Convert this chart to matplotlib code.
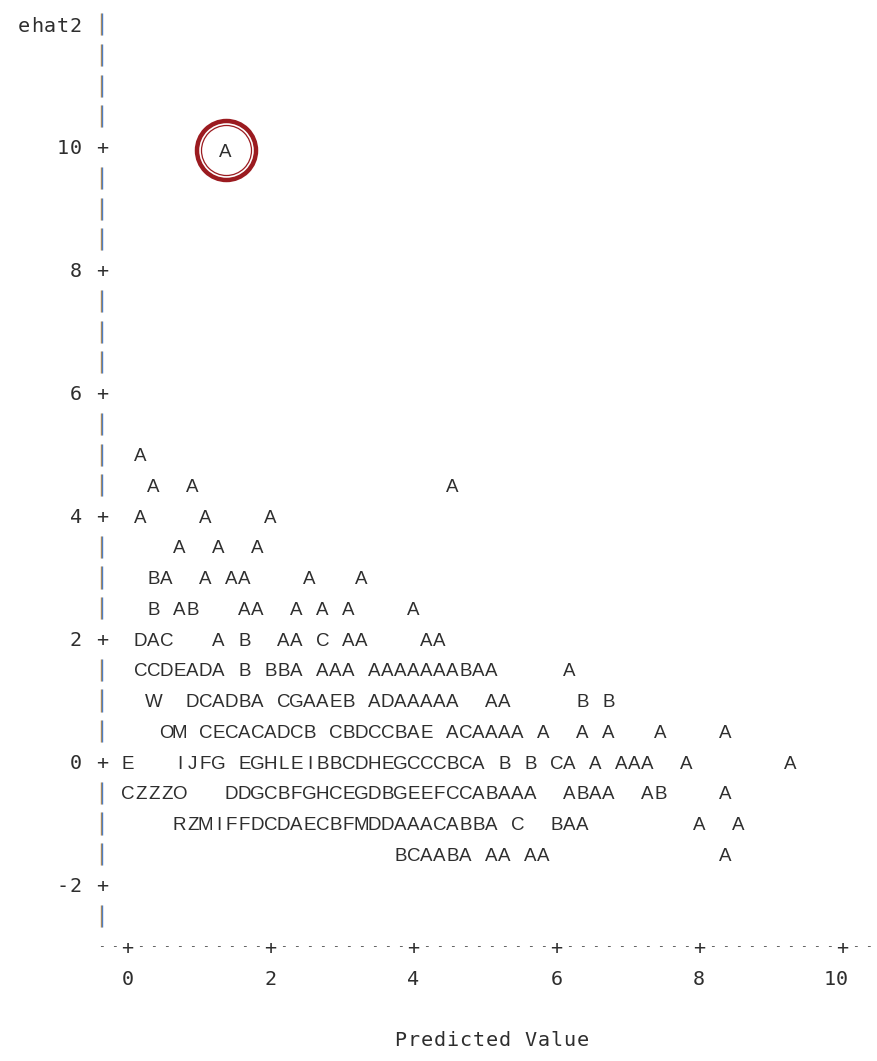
import matplotlib
matplotlib.use('Agg')
import matplotlib.pyplot as plt

# SAS line-printer plot of ehat2 against predicted value.
# one string per printed row; character i sits in print column i
# (column 0 = predicted value 0, 11 columns for every 2 units)
row_y = [5.0, 4.5, 4.0, 3.5, 3.0, 2.5, 2.0, 1.5, 1.0, 0.5, 0.0, -0.5, -1.0, -1.5]
row_text = [
    " A",
    "  A  A" + " " * 19 + "A",
    " A    A    A",
    "    A  A  A",
    "  BA  A AA    A   A",
    "  B AB   AA  A A A    A",
    " DAC   A B  AA C AA    AA",
    " CCDEADA B BBA AAA AAAAAAABAA     A",
    "  W  DCADBA CGAAEB ADAAAAA  AA     B B",
    "   OM CECACADCB CBDCCBAE ACAAAA A  A A   A    A",
    "E   IJFG EGHLEIBBCDHEGCCCBCA B B CA A AAA  A       A",
    "CZZZO   DDGCBFGHCEGDBGEEFCCABAAA  ABAA  AB    A",
    "    RZMIFFDCDAECBFMDDAAACABBA C  BAA" + " " * 8 + "A  A",
    " " * 21 + "BCAABA AA AA" + " " * 13 + "A",
]

# the circled outlier
circ_x = [1.37]
circ_y = [9.95]
circ_sym = ["A"]

x_ticks = [0, 2, 4, 6, 8, 10]
y_ticks = [10, 8, 6, 4, 2, 0, -2]
x_label = "Predicted Value"
y_label = "ehat2"

cw = 2 / 11  # one print column in predicted-value units
ink = '#2e2e2e'
sym = dict(family='Liberation Sans', fontsize=13.5, color=ink, ha='center', va='baseline')
axf = dict(family='DejaVu Sans Mono', fontsize=14.5, color=ink, ha='center', va='baseline')
sym_off = 0.108   # half cap height, data units
ax_off = 0.12

fig = plt.figure(figsize=(8.77, 10.61), dpi=100, facecolor='white')
ax = fig.add_axes([8 / 877, 0, 1 - 8 / 877, 1 - 2 / 1061])
ax.set_facecolor('#f7f9fd')
ax.set_xlim(-1.675, 10.487)
ax.set_ylim(-4.862, 12.36)
ax.axis('off')
ax.patch.set_visible(True)

# plot symbols
for y, line in zip(row_y, row_text):
    for i, ch in enumerate(line):
        if ch != ' ':
            ax.text(i * cw, y - sym_off, ch, **sym)
for x, y, s in zip(circ_x, circ_y, circ_sym):
    ax.text(x, y - sym_off, s, **sym)
ax.plot(circ_x, circ_y, 'o', ms=42.5, mfc='none', mec='#9b1b20', mew=3.2)
ax.plot(circ_x, circ_y, 'o', ms=36.0, mfc='none', mec='#9b1b20', mew=0.9)

# vertical axis: '+' at ticks, '|' between
yc = -2 * cw
row = 12.0
while row >= -2.5:
    if row in y_ticks:
        ax.text(yc, row - ax_off, '+', **axf)
        lab = str(int(row))
        for j, ch in enumerate(lab):
            ax.text((-4 - len(lab) + 1 + j) * cw, row - ax_off, ch, **axf)
    else:
        ax.vlines(yc - 0.008, row - 0.18, row + 0.18, color='#b88a4c', lw=1.0)
        ax.vlines(yc + 0.008, row - 0.18, row + 0.18, color='#4f7fc2', lw=1.0)
    row -= 0.5
for j, ch in enumerate(y_label):
    ax.text((-8 + j) * cw, 12.0 - ax_off, ch, **axf)

# horizontal axis line
for c in range(-2, 58):
    if 0 <= c <= 55 and c % 11 == 0:
        ax.text(c * cw, -3.0 - ax_off, '+', **axf)
    else:
        ax.text(c * cw, -3.0 - 0.035, '-', family='DejaVu Sans Mono', fontsize=8,
                color='#444444', ha='center', va='baseline')
for t in x_ticks:
    lab = str(t)
    c = int(round(t / cw))
    for j, ch in enumerate(lab):
        ax.text((c - len(lab) + 1 + j) * cw, -3.5 - ax_off, ch, **axf)
for j, ch in enumerate(x_label):
    ax.text((21 + j) * cw, -4.5 - ax_off, ch, **axf)

fig.savefig('out.png', dpi=100, facecolor='white')
